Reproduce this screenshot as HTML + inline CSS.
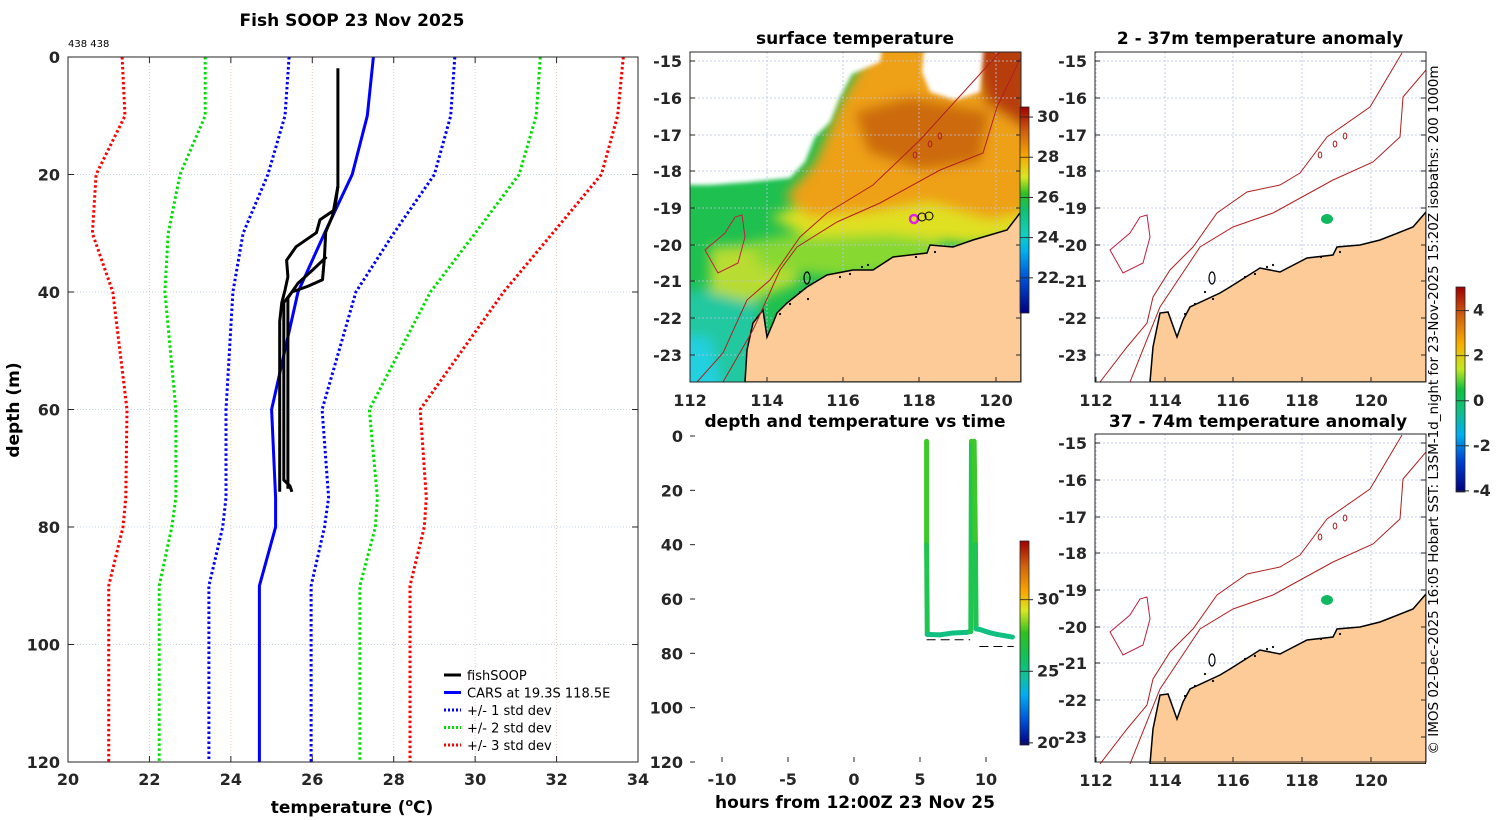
<!DOCTYPE html>
<html><head><meta charset="utf-8">
<style>
html,body{margin:0;padding:0;background:#fff;}
svg{display:block;font-family:"DejaVu Sans","Liberation Sans",sans-serif;}
.tk{font-size:16px;font-weight:bold;fill:#262626;}
.ttl{font-size:17px;font-weight:bold;fill:#000;}
.lg{font-size:13px;fill:#000;}
</style></head>
<body>
<svg id="fig" width="1500" height="820" viewBox="0 0 1500 820">
<defs>
<linearGradient id="sstcb" x1="0" y1="1" x2="0" y2="0">
<stop offset="0" stop-color="#000080"/><stop offset="0.17" stop-color="#0050d8"/><stop offset="0.3" stop-color="#00b0f0"/>
<stop offset="0.38" stop-color="#10d0c0"/><stop offset="0.5" stop-color="#10c070"/><stop offset="0.58" stop-color="#30c020"/>
<stop offset="0.66" stop-color="#d8e820"/><stop offset="0.76" stop-color="#f8a800"/><stop offset="0.88" stop-color="#d06010"/><stop offset="1" stop-color="#a00000"/>
</linearGradient>
<linearGradient id="tcb" x1="0" y1="1" x2="0" y2="0">
<stop offset="0" stop-color="#000080"/><stop offset="0.12" stop-color="#0050d8"/><stop offset="0.25" stop-color="#00b0f0"/>
<stop offset="0.33" stop-color="#10c0a0"/><stop offset="0.42" stop-color="#10c060"/><stop offset="0.55" stop-color="#30c020"/>
<stop offset="0.66" stop-color="#d8e820"/><stop offset="0.75" stop-color="#f8a800"/><stop offset="0.88" stop-color="#d06010"/><stop offset="1" stop-color="#a00000"/>
</linearGradient>
<linearGradient id="acb" x1="0" y1="1" x2="0" y2="0">
<stop offset="0" stop-color="#000080"/><stop offset="0.15" stop-color="#0040d0"/><stop offset="0.28" stop-color="#00b0f0"/>
<stop offset="0.4" stop-color="#10c080"/><stop offset="0.5" stop-color="#10c040"/><stop offset="0.6" stop-color="#c0e820"/>
<stop offset="0.72" stop-color="#f8b000"/><stop offset="0.86" stop-color="#d06010"/><stop offset="1" stop-color="#a00000"/>
</linearGradient>
<filter id="blur" x="-20%" y="-20%" width="140%" height="140%"><feGaussianBlur stdDeviation="6"/></filter>
<filter id="blur2" x="-20%" y="-20%" width="140%" height="140%"><feGaussianBlur stdDeviation="2"/></filter>
<clipPath id="clipA"><rect x="0" y="0" width="331" height="330"/></clipPath>
</defs>
</svg>
<script>
// ---------- profile data ----------
const stdDepths = [0, 10, 20, 30, 40, 60, 75, 80, 90, 120];
const carsTemp  = [27.5, 27.35, 26.98, 26.3, 25.65, 25.0, 25.1, 25.1, 24.7, 24.7];
const plus1     = [29.5, 29.4, 29.0, 28.0, 27.07, 26.24, 26.4, 26.3, 25.97, 25.97];
const minus1    = [25.43, 25.33, 24.91, 24.3, 24.05, 23.88, 23.88, 23.8, 23.46, 23.46];
const plus2     = [31.6, 31.5, 31.08, 30.0, 28.9, 27.4, 27.6, 27.55, 27.17, 27.17];
const minus2    = [23.37, 23.37, 22.75, 22.46, 22.38, 22.65, 22.65, 22.55, 22.24, 22.24];
const plus3     = [33.64, 33.5, 33.1, 31.9, 30.7, 28.65, 28.8, 28.75, 28.4, 28.4];
const minus3    = [21.33, 21.4, 20.69, 20.6, 21.1, 21.45, 21.42, 21.35, 21.0, 21.0];
const fishDepth1 = [1.9, 22, 26, 27.7, 29.9, 32.3, 34.6, 37.4, 39.7, 41.8, 45, 74];
const fishTemp1  = [26.63, 26.63, 26.55, 26.19, 26.1, 25.6, 25.37, 25.4, 25.33, 25.25, 25.2, 25.2];
const fishDepth2 = [22, 27, 29.8, 34, 37.9, 39, 40, 41.8, 45, 72, 73, 74];
const fishTemp2  = [26.63, 26.5, 26.33, 26.3, 26.25, 25.9, 25.5, 25.3, 25.3, 25.3, 25.45, 25.5];
const fishDepth3 = [34.0, 36.3, 38.5, 41.0, 73.5];
const fishTemp3  = [26.35, 26.0, 25.65, 25.4, 25.4];
const tempTicks = [20, 22, 24, 26, 28, 30, 32, 34];
const depthTicks = [0, 20, 40, 60, 80, 100, 120];
// ---------- time series data ----------
const tsHours = [5.5, 5.5, 5.55, 6.5, 7.5, 8.5, 8.85, 8.9, 9.1, 9.2, 9.25, 9.6, 10.2, 10.8, 11.4, 12.0];
const tsDepth = [2, 40, 73, 73.2, 72.5, 72.3, 72, 2, 2, 40, 71, 71.3, 72.3, 73, 73.5, 74];
const tsTemp  = [26.6, 26.3, 25.6, 25.6, 25.6, 25.6, 25.6, 26.6, 26.6, 26.3, 25.7, 25.7, 25.6, 25.6, 25.6, 25.6];
const hourTicks = [-10, -5, 0, 5, 10];
const sstTicks = [22, 24, 26, 28, 30];
const tcbTicks = [20, 25, 30];
const anomTicks = [-4, -2, 0, 2, 4];
const lonTicks = [112, 114, 116, 118, 120];
const latTicks = [-15, -16, -17, -18, -19, -20, -21, -22, -23];

const NS = 'http://www.w3.org/2000/svg';
const svg = document.getElementById('fig');
function mk(tag, attrs, parent) {
  const e = document.createElementNS(NS, tag);
  for (const k in attrs) e.setAttribute(k, attrs[k]);
  (parent || svg).appendChild(e);
  return e;
}
function txt(s, x, y, cls, anchor, parent) {
  const t = mk('text', {x: x, y: y, class: cls, 'text-anchor': anchor || 'middle'}, parent);
  t.textContent = s;
  return t;
}

// ---------- Panel 1: profile ----------
const P = {x0: 68, x1: 638, y0: 57, y1: 762};
const px = t => P.x0 + (t - 20) / 14 * (P.x1 - P.x0);
const py = d => P.y0 + d / 120 * (P.y1 - P.y0);
const g1 = mk('g', {});


tempTicks.forEach(t => {
  const l = mk('line', {x1: px(t), x2: px(t), y1: P.y0, y2: P.y1, stroke: '#f0c8b8', 'stroke-dasharray': '1 2'}, g1);
  
  
  mk('line', {x1: px(t), x2: px(t), y1: P.y1, y2: P.y1 - 6, stroke: '#262626'}, g1);
  mk('line', {x1: px(t), x2: px(t), y1: P.y0, y2: P.y0 + 6, stroke: '#262626'}, g1);
  const lb = txt(String(t), px(t), P.y1 + 23, 'tk', 'middle', g1);
  
  
});
depthTicks.forEach(d => {
  const l = mk('line', {x1: P.x0, x2: P.x1, y1: py(d), y2: py(d), stroke: '#c8d4f0', 'stroke-dasharray': '1 2'}, g1);
  
  
  mk('line', {x1: P.x0, x2: P.x0 + 6, y1: py(d), y2: py(d), stroke: '#262626'}, g1);
  mk('line', {x1: P.x1, x2: P.x1 - 6, y1: py(d), y2: py(d), stroke: '#262626'}, g1);
  const lb = txt(String(d), P.x0 - 8, py(d) + 6, 'tk', 'end', g1);
  
  
});
function pathOf(ts, ds) { return ts.map((t, i) => (i ? 'L' : 'M') + px(t).toFixed(1) + ' ' + py(ds[i]).toFixed(1)).join(''); }
const stdSeries = [[minus3, '#ff0000', 'minus-3-std-line'], [plus3, '#ff0000', 'plus-3-std-line'],
  [minus2, '#00e000', 'minus-2-std-line'], [plus2, '#00e000', 'plus-2-std-line'],
  [minus1, '#0000ff', 'minus-1-std-line'], [plus1, '#0000ff', 'plus-1-std-line']];
stdSeries.forEach(s => {
  const p = mk('path', {d: pathOf(s[0], stdDepths), fill: 'none', stroke: s[1], 'stroke-width': 3, 'stroke-dasharray': '2.5 2.5'}, g1);
  
  
});
const cars = mk('path', {d: pathOf(carsTemp, stdDepths), fill: 'none', stroke: '#0000ff', 'stroke-width': 3}, g1);


[[fishTemp1, fishDepth1], [fishTemp2, fishDepth2], [fishTemp3, fishDepth3]].forEach(f => {
  const p = mk('path', {d: pathOf(f[0], f[1]), fill: 'none', stroke: '#000', 'stroke-width': 3, 'stroke-linejoin': 'round'}, g1);
  
  
});
mk('rect', {x: P.x0, y: P.y0, width: P.x1 - P.x0, height: P.y1 - P.y0, fill: 'none', stroke: '#262626'}, g1);
const legItems = [['fishSOOP', '#000', ''], ['CARS at 19.3S 118.5E', '#0000ff', ''], ['+/- 1 std dev', '#0000ff', '2 2'], ['+/- 2 std dev', '#00e000', '2 2'], ['+/- 3 std dev', '#ff0000', '2 2']];
legItems.forEach((it, i) => {
  const y = 675 + i * 17.5;
  const g = mk('g', {}, g1);
  
  
  mk('line', {x1: 444, x2: 461, y1: y, y2: y, stroke: it[1], 'stroke-width': 3, 'stroke-dasharray': it[2]}, g);
  txt(it[0], 467, y + 5, 'lg', 'start', g);
});
let t = txt('Fish SOOP 23 Nov 2025', 352, 26, 'ttl');
 
t = mk('text', {x: 68, y: 47, 'font-size': 10, fill: '#000'}); t.textContent = '438 438';
 
t = mk('text', {x: 352, y: 813, class: 'ttl', 'text-anchor': 'middle'});
t.innerHTML = 'temperature (<tspan dy="-7" font-size="11">o</tspan><tspan dy="7">C)</tspan>';
 
t = txt('depth (m)', 0, 0, 'ttl'); t.setAttribute('transform', 'translate(19,410) rotate(-90)');
 

// ---------- map geometry (box-relative pixels) ----------
const coastL = [[330,161],[317,178],[283,188],[263,195],[240,193],[237,201],[203,205],[183,218],[163,218],[137,223],[117,235],[97,251],[87,261],[83,271],[77,285],[73,258],[63,271],[57,298],[55,330]];
const coastR = [[331,160],[318,175],[285,188],[265,193],[242,195],[238,203],[212,206],[185,220],[165,216],[135,235],[125,241],[95,255],[88,268],[82,285],[73,260],[65,261],[58,295],[55,330]];
const outerL = [[310,0],[300,11],[230,88],[183,133],[137,161],[110,185],[80,228],[57,248],[33,301],[7,330]];
const innerL = [[331,5],[307,55],[293,101],[250,118],[190,151],[147,170],[107,195],[90,218],[63,278],[33,330]];
const outerR = [[307,1],[275,55],[232,85],[205,121],[185,133],[152,140],[122,161],[98,195],[75,218],[58,245],[52,271],[32,295],[5,330]];
const innerR = [[331,18],[308,45],[305,85],[278,110],[238,128],[178,161],[138,175],[105,195],[85,225],[65,255],[35,330]];
const island = [[52,163],[55,185],[48,211],[28,221],[15,198],[35,181],[45,165]];
const pstr = a => a.map((p, i) => (i ? 'L' : 'M') + p[0] + ' ' + p[1]).join('');

function mapFrame(x0, y0, h, lonPos, latPos, name, coast, outer, inner) {
  const g = mk('g', {transform: `translate(${x0},${y0})`});
  
  
  const c = mk('g', {'clip-path': 'url(#clipA)'}, g);
  return {g: g, c: c, draw() {
    lonPos.forEach((x, i) => {
      mk('line', {x1: x, x2: x, y1: 0, y2: h, stroke: '#b8c4e8', 'stroke-width': 0.8, 'stroke-dasharray': '2 2'}, c);
      mk('line', {x1: x, x2: x, y1: h, y2: h - 5, stroke: '#262626'}, g);
      const lb = txt(String(lonTicks[i]), x, h + 24, 'tk', 'middle', g);
      
      
    });
    latPos.forEach((y, i) => {
      mk('line', {x1: 0, x2: 331, y1: y, y2: y, stroke: '#b8c4e8', 'stroke-width': 0.8, 'stroke-dasharray': '2 2'}, c);
      mk('line', {x1: 0, x2: 5, y1: y, y2: y, stroke: '#262626'}, g);
      mk('line', {x1: 331, x2: 326, y1: y, y2: y, stroke: '#262626'}, g);
      const lb = txt(String(latTicks[i]), -8, y + 6, 'tk', 'end', g);
      
      
    });
    const land = mk('path', {d: pstr(coast) + 'L331 330L331 160Z', fill: '#fccb98', stroke: '#000', 'stroke-width': 1.5}, c);
    
    
    mk('ellipse', {cx: 117, cy: 226, rx: 3, ry: 6, fill: 'none', stroke: '#000', 'stroke-width': 1.2}, c);
    [[110,240],[118,247],[150,225],[160,222],[172,215],[178,213],[100,252],[90,262],[245,200],[226,205]].forEach(p => mk('circle', {cx: p[0], cy: p[1], r: 1.1, fill: '#000'}, c));
    [outer, inner].forEach(l => {
      const p = mk('path', {d: pstr(l), fill: 'none', stroke: '#b02020', 'stroke-width': 1}, c);
      
      
    });
    mk('path', {d: pstr(island) + 'Z', fill: 'none', stroke: '#c02040', 'stroke-width': 1}, c);
    [[225,103],[240,92],[250,84]].forEach(p => mk('ellipse', {cx: p[0], cy: p[1], rx: 1.8, ry: 3, fill: 'none', stroke: '#b02020'}, c));
    mk('rect', {x: 0, y: 0, width: 331, height: h, fill: 'none', stroke: '#262626'}, g);
  }};
}
function colorbar(x, y0, y1, grad, ticks, vmin, vmax, name) {
  const g = mk('g', {});
  
  
  mk('rect', {x: x, y: y0, width: 9, height: y1 - y0, fill: `url(#${grad})`, stroke: '#262626', 'stroke-width': 0.8}, g);
  ticks.forEach(v => {
    const y = y1 - (v - vmin) / (vmax - vmin) * (y1 - y0);
    mk('line', {x1: x + 9, x2: x + 13, y1: y, y2: y, stroke: '#262626'}, g);
    mk('line', {x1: x, x2: x + 9, y1: y, y2: y, stroke: '#262626', 'stroke-width': 0.8}, g);
    const lb = txt(String(v), x + 17, y + 5, 'tk', 'start', g);
    lb.setAttribute('font-size', '14');
  });
}

// ---------- Panel 2: SST map ----------
const latL = [9, 46, 83, 119, 156, 193, 229, 266, 303];
const mA = mapFrame(690, 52, 330, [0, 77, 153, 229, 306], latL, 'sst-map', coastL, outerL, innerL);
mk('rect', {x: 0, y: 0, width: 331, height: 330, fill: '#1ec050'}, mA.c);
const field = mk('g', {filter: 'url(#blur)'}, mA.c);
mk('path', {d: 'M-20 240 L40 235 L70 250 L65 350 L-20 350Z', fill: '#20c8a0'}, field);
mk('path', {d: 'M-20 285 L20 285 L35 350 L-20 350Z', fill: '#20d0e0'}, field);
mk('path', {d: 'M20 195 L100 190 L110 230 L60 250 L20 240Z', fill: '#b8dc30'}, field);
mk('path', {d: 'M60 190 L140 175 L250 185 L250 215 L150 225 L70 215Z', fill: '#88d830'}, field);
mk('path', {d: 'M80 165 L150 140 L340 130 L340 185 L280 192 L200 182 L120 185Z', fill: '#e0e020'}, field);
mk('path', {d: 'M95 145 L125 110 L150 50 L190 -20 L340 -20 L340 160 L300 168 L240 150 L180 160 L120 165Z', fill: '#eea018'}, field);
mk('path', {d: 'M165 60 L220 45 L300 60 L290 110 L230 118 L178 100Z', fill: '#cc6a10'}, field);
mk('path', {d: 'M275 -20 L340 -20 L340 80 L295 50Z', fill: '#b83c08'}, field);
const nodata = mk('path', {d: 'M-20 -20 L195 -20 L190 10 L162 22 L150 45 L140 70 L125 85 L115 110 L100 126 L60 130 L20 133 L-20 133Z M235 -20 L295 -20 L290 40 L265 48 L240 40 L232 20Z', fill: '#fff', filter: 'url(#blur2)'}, mA.c);


mA.draw();
mk('circle', {cx: 224, cy: 167, r: 4, fill: 'none', stroke: '#e020e0', 'stroke-width': 2.5}, mA.g);
mk('circle', {cx: 232, cy: 165, r: 4, fill: 'none', stroke: '#000', 'stroke-width': 1}, mA.g);
mk('circle', {cx: 239, cy: 164, r: 4, fill: 'none', stroke: '#000', 'stroke-width': 1}, mA.g);
colorbar(1020, 107, 313, 'sstcb', sstTicks, 20.25, 30.5, 'sst-colorbar');
t = txt('surface temperature', 855, 44, 'ttl');  

// ---------- Panel 3: time series ----------
const T = {x0: 690, x1: 1021, y0: 436, y1: 762};
const tx = h => 854 + h * 13.2;
const ty = d => T.y0 + d / 120 * (T.y1 - T.y0);
const g3 = mk('g', {});


hourTicks.forEach(h => {
  mk('line', {x1: tx(h), x2: tx(h), y1: T.y1, y2: T.y1 - 5, stroke: '#262626'}, g3);
  const lb = txt(String(h), tx(h), T.y1 + 23, 'tk', 'middle', g3);
  
  
});
depthTicks.forEach(d => {
  mk('line', {x1: T.x0, x2: T.x0 + 5, y1: ty(d), y2: ty(d), stroke: '#262626'}, g3);
  const lb = txt(String(d), T.x0 - 7, ty(d) + 6, 'tk', 'end', g3);
  
  
});
mk('line', {x1: tx(5.5), x2: tx(8.8), y1: ty(75), y2: ty(75), stroke: '#000', 'stroke-dasharray': '9 5'}, g3);
mk('line', {x1: tx(9.5), x2: tx(12.1), y1: ty(77.5), y2: ty(77.5), stroke: '#000', 'stroke-dasharray': '9 5'}, g3);
function tcol(v) { return v > 26.2 ? '#3cc828' : (v > 25.8 ? '#20c450' : '#10c080'); }
for (let i = 1; i < tsHours.length; i++) {
  const s = mk('line', {x1: tx(tsHours[i-1]), y1: ty(tsDepth[i-1]), x2: tx(tsHours[i]), y2: ty(tsDepth[i]), stroke: tcol((tsTemp[i]+tsTemp[i-1])/2), 'stroke-width': 5, 'stroke-linecap': 'round'}, g3);
  
  
}
colorbar(1020, 541, 745, 'tcb', tcbTicks, 19.85, 34.1, 'time-colorbar');
t = txt('depth and temperature vs time', 855, 427, 'ttl');  
t = txt('hours from 12:00Z 23 Nov 25', 855, 808, 'ttl');  

// ---------- Panels 4,5: anomaly maps ----------
const lonR = [1, 70, 138, 207, 276];
const mB = mapFrame(1095, 52, 330, lonR, latL, 'anomaly-map-2-37m', coastR, outerR, innerR);
mB.draw();
let dot = mk('ellipse', {cx: 232, cy: 167, rx: 6, ry: 5, fill: '#10b860'}, mB.g);
 
const mC = mapFrame(1095, 434, 328, lonR, latL, 'anomaly-map-37-74m', coastR, outerR, innerR);
mC.draw();
dot = mk('ellipse', {cx: 232, cy: 166, rx: 6, ry: 5, fill: '#10b860'}, mC.g);
 
colorbar(1456, 287, 492, 'acb', anomTicks, -4.05, 5.05, 'anomaly-colorbar');
t = txt('2 - 37m temperature anomaly', 1260, 44, 'ttl');  
t = txt('37 - 74m temperature anomaly', 1258, 427, 'ttl');  
t = mk('text', {transform: 'translate(1438,410) rotate(-90)', 'text-anchor': 'middle', 'font-size': 13.5, fill: '#000'});
t.textContent = '\u00a9 IMOS 02-Dec-2025 16:05 Hobart SST: L3SM-1d_night for 23-Nov-2025 15:20Z isobaths: 200  1000m';
 
</script>
</body></html>
